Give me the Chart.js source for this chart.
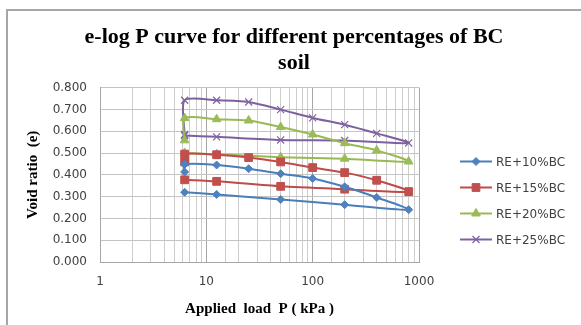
<!DOCTYPE html>
<html>
<head>
<meta charset="utf-8">
<script src="https://cdn.jsdelivr.net/npm/chart.js@4/dist/chart.umd.min.js"></script>
<style>
  html, body { margin: 0; padding: 0; background: #fff; }
  #wrap { position: relative; width: 581px; height: 325px; }
  #frame { position: absolute; left: 6px; top: 9px; right: 0; bottom: 0;
           border-top: 2px solid #a6a6a6; border-left: 2px solid #a6a6a6; }
  canvas { position: absolute; left: 0; top: 0; }
</style>
</head>
<body>
<div id="wrap">
  <div id="frame"></div>
  <canvas id="myChart" width="581" height="325"></canvas>
</div>
<script>
// load path: seating reading, loading 6.25 -> 800 kPa, then unloading back to 6.25
const pressure = [6.25, 6.25, 12.5, 25, 50, 100, 200, 400, 800, 200, 50, 12.5, 6.25];
const re10 = [0.413, 0.448, 0.445, 0.428, 0.405, 0.383, 0.345, 0.296, 0.240, 0.263, 0.287, 0.310, 0.320];
const re15 = [0.459, 0.495, 0.492, 0.479, 0.459, 0.433, 0.410, 0.375, 0.323, 0.334, 0.347, 0.370, 0.377];
const re20 = [0.558, 0.660, 0.655, 0.649, 0.619, 0.585, 0.545, 0.512, 0.461, 0.474, 0.481, 0.494, 0.500];
const re25 = [0.585, 0.742, 0.742, 0.734, 0.699, 0.661, 0.630, 0.590, 0.546, 0.557, 0.560, 0.574, 0.580];

const seriesNames = ['RE+10%BC', 'RE+15%BC', 'RE+20%BC', 'RE+25%BC'];
const seriesValues = [re10, re15, re20, re25];
const lineColors = ['#4a7ebb', '#be4b48', '#98b954', '#7d60a0'];
const markerColors = ['#4f81bd', '#c0504d', '#9bbb59', '#8064a2'];
const markerStyles = ['rectRot', 'rect', 'triangle', 'crossRot'];
const markerSizes = [4, 5.5, 5, 5];

const xTickLabels = [1, 10, 100, 1000];

function toPoints(values) {
  const pts = [];
  for (let j = 0; j < pressure.length; j++) {
    pts.push({ x: pressure[j], y: values[j] });
  }
  return pts;
}

const datasets = [];
for (let i = 0; i < seriesNames.length; i++) {
  datasets.push({
    label: seriesNames[i],
    data: toPoints(seriesValues[i]),
    showLine: true,
    tension: 0.25,
    borderColor: lineColors[i],
    borderWidth: 2,
    pointStyle: markerStyles[i],
    pointRadius: markerSizes[i],
    pointBackgroundColor: markerColors[i],
    pointBorderColor: markerColors[i],
    pointBorderWidth: markerStyles[i] === 'crossRot' ? 1.2 : 1
  });
}

// legend drawn Excel style: short line with the marker in the middle
const sideLegend = {
  id: 'sideLegend',
  afterDraw(chart) {
    const ctx = chart.ctx;
    const x0 = 460, x1 = 492, top = 161.5, gap = 26;
    ctx.save();
    ctx.font = '12px "DejaVu Sans"';
    ctx.textBaseline = 'middle';
    chart.data.datasets.forEach((ds, i) => {
      const y = top + i * gap;
      ctx.strokeStyle = ds.borderColor;
      ctx.lineWidth = 2;
      ctx.beginPath();
      ctx.moveTo(x0, y);
      ctx.lineTo(x1, y);
      ctx.stroke();
      ctx.fillStyle = ds.pointBackgroundColor;
      ctx.strokeStyle = ds.pointBorderColor;
      ctx.lineWidth = ds.pointBorderWidth;
      Chart.helpers.drawPoint(ctx, { pointStyle: ds.pointStyle, radius: ds.pointRadius, rotation: 0, borderWidth: ds.pointBorderWidth }, (x0 + x1) / 2, y);
      ctx.fillStyle = '#404040';
      ctx.fillText(ds.label, 496, y + 1);
    });
    ctx.restore();
  }
};

const ctx = document.getElementById('myChart');
new Chart(ctx, {
  type: 'scatter',
  data: { datasets: datasets },
  plugins: [sideLegend],
  options: {
    responsive: false,
    animation: false,
    layout: { padding: { left: 20, right: 13, top: 0, bottom: 7 } },
    plugins: {
      legend: { display: false },
      tooltip: { enabled: false },
      title: {
        display: true,
        text: ['e-log P curve for different percentages of BC', 'soil'],
        color: '#000',
        font: { family: '"Liberation Serif"', size: 22, weight: 'bold', lineHeight: 1.15 },
        padding: { top: 25, bottom: 12 }
      }
    },
    scales: {
      x: {
        type: 'logarithmic',
        min: 1,
        max: 1000,
        afterFit: s => { s.height = 56; },
        grid: {
          drawTicks: false,
          color: c => (xTickLabels.includes(c.tick && c.tick.value) ? '#a6a6a6' : '#cdcdcd')
        },
        border: { color: '#a6a6a6' },
        ticks: {
          autoSkip: false,
          maxRotation: 0,
          padding: 13,
          color: '#404040',
          font: { family: '"DejaVu Sans"', size: 12 },
          callback: v => (xTickLabels.includes(v) ? String(v) : '')
        },
        title: {
          display: true,
          text: 'Applied  load  P ( kPa )',
          color: '#000',
          font: { family: '"Liberation Serif"', size: 15, weight: 'bold' },
          padding: { top: 4, bottom: 0 }
        }
      },
      y: {
        min: 0,
        max: 0.8,
        afterFit: s => { s.width = 80; },
        grid: { drawTicks: false, color: '#c4c4c4' },
        border: { color: '#a6a6a6' },
        ticks: {
          stepSize: 0.1,
          padding: 13,
          color: '#404040',
          font: { family: '"DejaVu Sans"', size: 12 },
          callback: v => v.toFixed(3)
        },
        title: {
          display: true,
          text: 'Void ratio  (e)',
          color: '#000',
          font: { family: '"Liberation Serif"', size: 15, weight: 'bold' },
          padding: { top: 4, bottom: 0 }
        }
      },
      // empty axis that keeps room for the legend on the right
      side: {
        type: 'linear',
        position: 'right',
        display: true,
        afterFit: s => { s.width = 149; },
        grid: { display: false },
        border: { display: false },
        ticks: { display: false }
      }
    }
  }
});
</script>
</body>
</html>
